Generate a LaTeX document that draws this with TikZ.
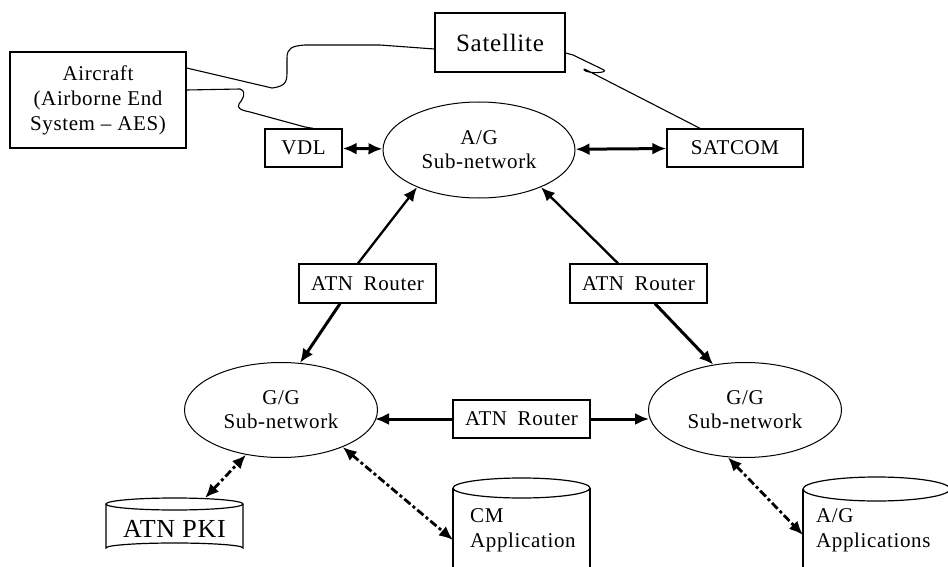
\documentclass[tikz,border=0pt]{standalone}
\usepackage{fontspec}
\setmainfont[LetterSpace=3]{Liberation Serif}
\usetikzlibrary{shapes.geometric,arrows.meta}

\tikzset{
  tip/.tip={Latex[length=14pt,width=12pt]},
  box/.style={draw, line width=1.3pt, inner sep=0pt, align=center,
    font=\fontsize{21}{25}\selectfont},
  subnet/.style={ellipse, draw, line width=1pt, inner sep=0pt,
    minimum width=193pt, minimum height=95pt, align=center,
    font=\fontsize{21}{24}\selectfont},
  link/.style={line width=3pt, -tip},
  dlink/.style={line width=2.8pt, tip-tip, dash pattern=on 8pt off 3pt on 3pt off 3pt},
  wire/.style={line width=1.1pt, line join=round},
  cyl/.style={line width=1.2pt}
}

\begin{document}
\begin{tikzpicture}[x=1pt,y=-1pt]
        \useasboundingbox (0,0) rectangle (948,567);
        \clip (0,0) rectangle (948,567);

        % Boxes at the top
        \node[box, minimum width=130pt, minimum height=59pt, font=\fontsize{25}{30}\selectfont] (sat) at (500,42.5) {Satellite};
        \node[box, minimum width=176pt, minimum height=96pt] (aircraft) at (98,100) {Aircraft\\(Airborne End\\System -- AES)};
        \node[box, minimum width=77pt, minimum height=38pt] (vdl) at (303.5,148) {VDL};
        \node[box, minimum width=136pt, minimum height=38pt] (satcom) at (735,148) {SATCOM};

        % Sub-networks
        \node[subnet, minimum width=192pt, minimum height=96pt] (ag) at (479,150) {A/G\\Sub-network};
        \node[subnet] (ggl) at (281,410) {G/G\\Sub-network};
        \node[subnet] (ggr) at (745,410) {G/G\\Sub-network};

        % Routers
        \node[box, minimum width=137pt, minimum height=39pt] (rl) at (367.5,283.5) {ATN\enspace Router};
        \node[box, minimum width=137pt, minimum height=39pt] (rr) at (638.5,283.5) {ATN\enspace Router};
        \node[box, minimum width=137pt, minimum height=38pt] (rb) at (521.5,419) {ATN\enspace Router};

        % Data stores
        \draw[cyl] (106,504) -- (106,548) arc[start angle=180, end angle=360, x radius=68.5, y radius=5] -- (243,504);
        \draw[cyl] (174.5,504) ellipse [x radius=68.5, y radius=6];
        \node[font=\fontsize{26}{30}\selectfont] (pki) at (174.5,529) {ATN PKI};

        \draw[cyl] (453,488) -- (453,600) (590,488) -- (590,600);
        \draw[cyl] (521.5,488) ellipse [x radius=68.5, y radius=10];
        \node[anchor=west, align=left, inner sep=0pt, font=\fontsize{21}{25}\selectfont] (cm) at (470,530) {CM\\Application};

        \draw[cyl] (803,489) -- (803,600) (950,489) -- (950,600);
        \draw[cyl] (876.5,489) ellipse [x radius=73.5, y radius=12];
        \node[anchor=west, align=left, inner sep=0pt, font=\fontsize{21}{25}\selectfont] (agapp) at (816,530) {A/G\\Applications};

        \coordinate (pkitop) at (205,498);
        \coordinate (cmside) at (453,540);
        \coordinate (agside) at (803,535);

        % Radio links
        \draw[wire] (aircraft.east |- 0,68) -- (272,88) .. controls (288,86) and (287,80) .. (287,68)
          -- (287,58) .. controls (287,48) and (292,46) .. (305,45) -- (380,45) -- (sat.west |- 0,49);
        \draw[wire] (aircraft.east |- 0,90) -- (240,89) .. controls (248,92) and (242,100) .. (239,104)
          .. controls (237,108) and (240,110) .. (250,112) -- (305,127) -- (313,0 |- vdl.north);
        \draw[wire] (sat.east |- 0,53) -- (573,55) -- (604,70) .. controls (608,73) and (588,74) .. (584,70)
          .. controls (582,67) and (590,72) .. (598,76) -- (700,0 |- satcom.north);

        % Connections
        \draw[link, tip-tip] (vdl) -- (ag);
        \draw[link, tip-tip] (ag) -- (satcom);
        \draw[link, line width=2.3pt] (358,0 |- rl.north) -- (ag.211);
        \draw[link, line width=2.3pt] (618,0 |- rr.north) -- (ag.-31);
        \draw[link] (340,0 |- rl.south) -- (ggl.68);
        \draw[link] (655,0 |- rr.south) -- (ggr.125);
        \draw[link] (rb.west) -- (375,0 |- rb.west);
        \draw[link] (rb.east) -- (649,0 |- rb.east);

        \draw[dlink] (pkitop) -- (ggl.232);
        \draw[dlink] (ggl.-31) -- (cmside);
        \draw[dlink] (ggr.250) -- (agside);
    \end{tikzpicture}
\end{document}
